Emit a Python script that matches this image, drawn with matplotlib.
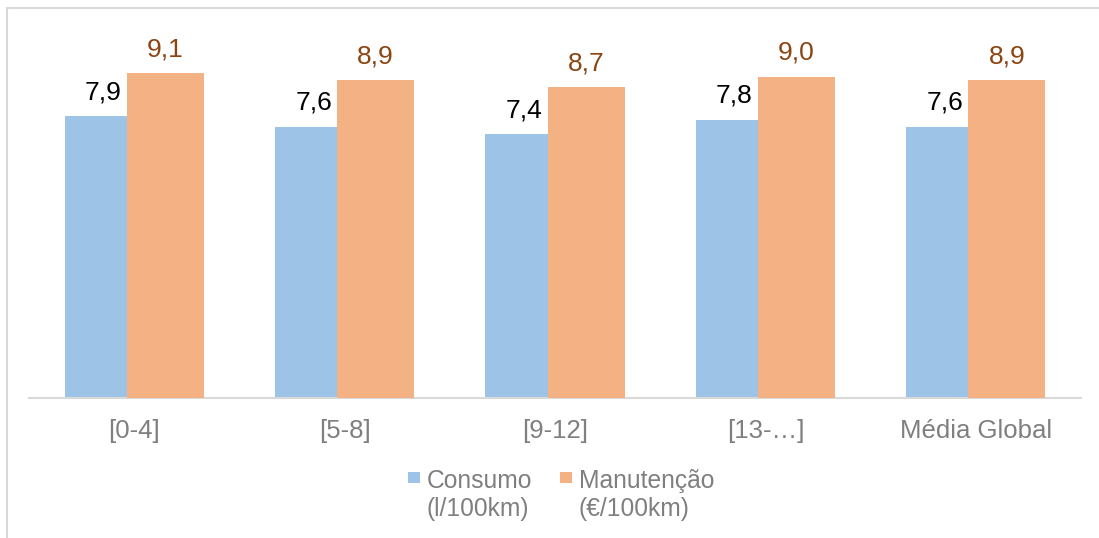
import numpy as np
import matplotlib.pyplot as plt
from matplotlib.patches import Rectangle

plt.rcParams["font.family"] = ["Liberation Sans", "DejaVu Sans"]

categories = ["[0-4]", "[5-8]", "[9-12]", "[13-…]", "Média Global"]
consumo = [7.9, 7.6, 7.4, 7.8, 7.6]
manutencao = [9.1, 8.9, 8.7, 9.0, 8.9]
series_names = ["Consumo\n(l/100km)", "Manutenção\n(€/100km)"]

blue = "#9DC3E6"
orange = "#F4B183"
label_orange = "#8B4513"
grey_text = "#7F7F7F"

W, H = 1099, 538
fig = plt.figure(figsize=(W / 100, H / 100), dpi=100)

# outer chart frame (only left/top visible in the crop)
fig.patches.append(Rectangle((7 / W, -0.1), 1.2, 1 - 8 / H + 0.1, transform=fig.transFigure,
                             fill=False, edgecolor="#D9D9D9", linewidth=1.5))

ax = fig.add_axes([29 / W, 1 - 398 / H, 1052 / W, 357 / H])

x = np.arange(len(categories))
width = 0.366
off = 0.1475

ax.bar(x - off, consumo, width, color=blue, zorder=2)
ax.bar(x + off, manutencao, width, color=orange, zorder=3)

gap = 0.47
for xi, v in zip(x, consumo):
    ax.text(xi - off, v + gap, f"{v:.1f}".replace(".", ","), ha="center", va="baseline",
            fontsize=19, color="black")
for xi, v in zip(x, manutencao):
    ax.text(xi + off, v + gap, f"{v:.1f}".replace(".", ","), ha="center", va="baseline",
            fontsize=19, color=label_orange)

ax.set_xlim(-0.5, len(categories) - 0.5)
ax.set_ylim(0, 10)
ax.set_yticks([])
ax.set_xticks(x)
ax.set_xticklabels(categories, fontsize=18.5, color=grey_text)
ax.tick_params(axis="x", length=0, pad=15)
for side in ["top", "right", "left"]:
    ax.spines[side].set_visible(False)
ax.spines["bottom"].set_color("#D9D9D9")
ax.spines["bottom"].set_linewidth(1.5)
ax.set_facecolor("none")

# legend, handles aligned with first line of each label
leg_items = [(408, 427, blue, series_names[0]), (560, 579, orange, series_names[1])]
for sx, tx, col, name in leg_items:
    fig.patches.append(Rectangle((sx / W, 1 - 483 / H), 12 / W, 11 / H, transform=fig.transFigure,
                                 facecolor=col, edgecolor="none"))
    fig.text(tx / W, 1 - 469 / H, name, ha="left", va="top", fontsize=17.7,
             color=grey_text, linespacing=1.2)

fig.savefig("out.png", dpi=100)
